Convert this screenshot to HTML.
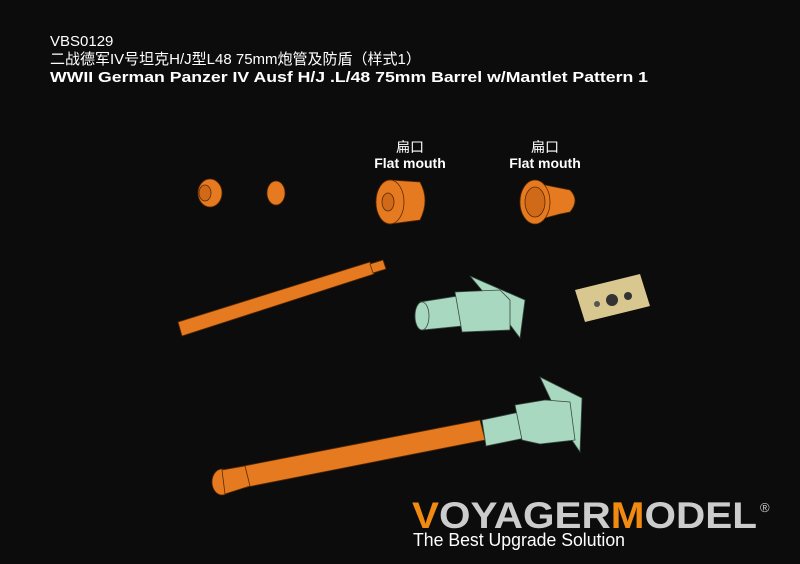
<!DOCTYPE html>
<html><head><meta charset="utf-8"><style>
html,body{margin:0;padding:0;background:#0c0c0c;}
svg{display:block}
</style></head><body>
<svg width="800" height="564" viewBox="0 0 800 564" xmlns="http://www.w3.org/2000/svg">
<rect width="800" height="564" fill="#0c0c0c"/>
<g font-family="Liberation Sans, Noto Sans CJK SC, sans-serif" fill="#fff">
<text x="50" y="46" font-size="15">VBS0129</text>
<text x="50" y="64" font-size="15">二战德军IV号坦克H/J型L48 75mm炮管及防盾（样式1）</text>
<text x="50" y="82" font-size="15" font-weight="bold" textLength="598" lengthAdjust="spacingAndGlyphs">WWII German Panzer IV Ausf H/J .L/48 75mm Barrel w/Mantlet Pattern 1</text>
<text x="410" y="152" font-size="14" text-anchor="middle">扁口</text>
<text x="410" y="168" font-size="14" text-anchor="middle" font-weight="bold">Flat mouth</text>
<text x="545" y="152" font-size="14" text-anchor="middle">扁口</text>
<text x="545" y="168" font-size="14" text-anchor="middle" font-weight="bold">Flat mouth</text>
</g>
<g stroke="#5a2a00" stroke-width="0.8" fill="#e67a20">
<ellipse cx="210" cy="193" rx="12" ry="14"/><ellipse cx="205" cy="193" rx="6" ry="8" fill="#d06a18"/>
<ellipse cx="276" cy="193" rx="9" ry="12"/>
<path d="M390 180 L420 182 Q430 200 420 220 L390 224 Z"/>
<ellipse cx="390" cy="202" rx="14" ry="22"/><ellipse cx="388" cy="202" rx="6" ry="9" fill="#d06a18"/>
<path d="M530 182 L560 188 L570 190 Q580 200 570 212 L560 214 L530 222 Z"/>
<ellipse cx="535" cy="202" rx="15" ry="22"/><ellipse cx="535" cy="202" rx="10" ry="15" fill="#d06a18"/>
<path d="M178 322 L370 262 L374 274 L182 336 Z"/>
<path d="M370 264 L383 260 L386 269 L373 273 Z"/>
<path d="M218 471 L480 420 L485 440 L222 492 Z"/>
<ellipse cx="222" cy="482" rx="10" ry="13"/>
<path d="M222 470 L245 466 L250 486 L225 494 Z"/>
</g>
<g stroke="#3a4a40" stroke-width="0.8" fill="#a8d8c0">
<path d="M470 276 L525 300 L520 338 L505 318 Z"/>
<path d="M420 302 L458 296 L462 326 L422 330 Z"/>
<ellipse cx="422" cy="316" rx="7" ry="14"/>
<path d="M455 292 L500 290 L510 300 L510 330 L462 332 Z"/>
<path d="M540 377 L582 398 L580 452 L565 430 Z"/>
<path d="M482 420 L520 412 L525 438 L486 446 Z"/>
<path d="M515 405 L545 400 L570 402 L575 440 L540 444 L522 440 Z"/>
</g>
<polygon points="575,290 640,274 650,306 585,322" fill="#d8c890"/>
<circle cx="612" cy="300" r="6" fill="#333"/><circle cx="628" cy="296" r="4" fill="#333"/><circle cx="597" cy="304" r="3" fill="#555"/>
<g font-family="Liberation Sans, sans-serif" font-weight="bold">
<text x="412" y="528" font-size="37" fill="#ccc" textLength="345" lengthAdjust="spacingAndGlyphs"><tspan fill="#f08a10">V</tspan>OYAGER<tspan fill="#f08a10">M</tspan>ODEL</text>
<text x="760" y="512" font-size="13" fill="#ccc" font-weight="normal">®</text>
<text x="413" y="546" font-size="18" fill="#fff" font-weight="normal" textLength="212" lengthAdjust="spacingAndGlyphs">The Best Upgrade Solution</text>
</g>
</svg>
</body></html>
